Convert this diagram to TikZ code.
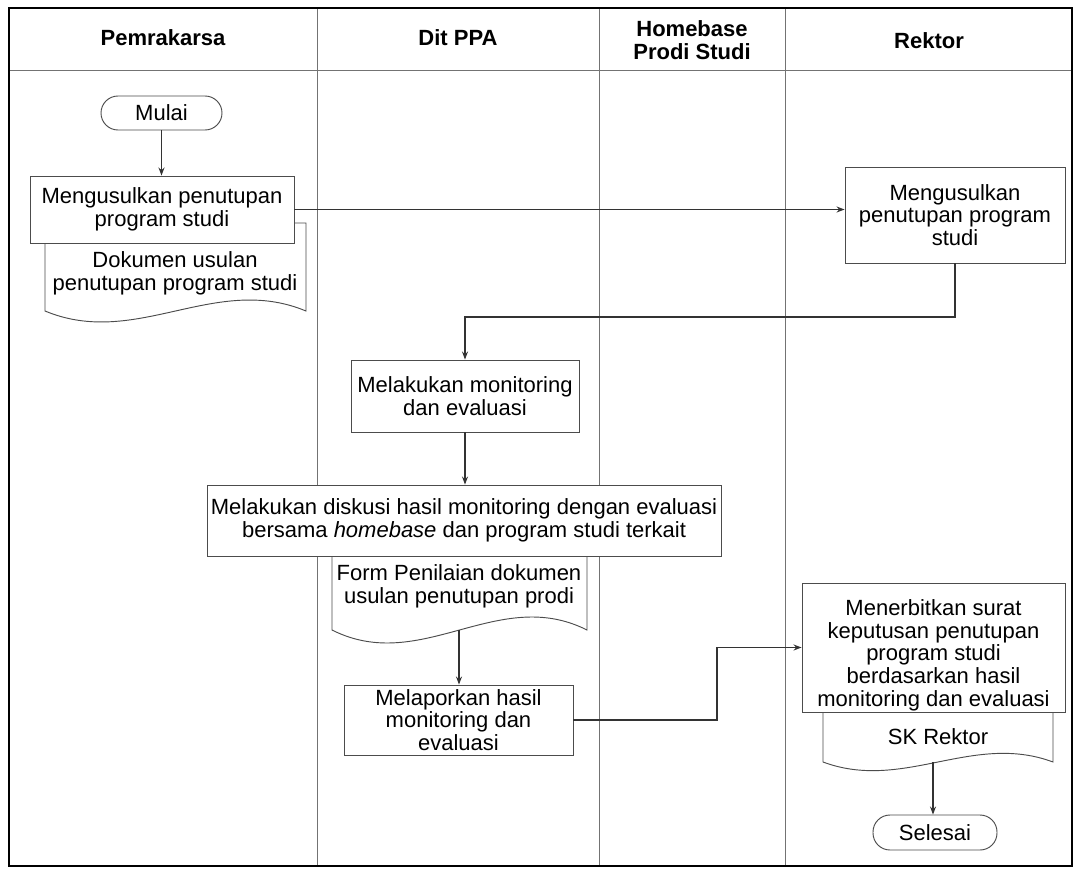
\documentclass[tikz,border=0pt]{standalone}
\usepackage{fontspec}
\setmainfont{Liberation Sans}
\usetikzlibrary{arrows.meta}

% document symbol: left x, top y, right x, bottom y, wave depth
\newcommand\docsymbol[5]{%
  \path[docline] (#1,#2) -- (#1,#4)
    .. controls ({#1+0.35*(#3-#1)},{#4+#5}) and ({#1+0.65*(#3-#1)},{#4-#5}) .. (#3,#4)
    -- (#3,#2) -- cycle;}

\begin{document}
\begin{tikzpicture}[x=0.75pt,y=-0.75pt,
  txt/.style={font=\fontsize{16.5pt}{17pt}\selectfont, align=center, inner sep=0pt},
  head/.style={font=\fontsize{16.5pt}{17.3pt}\selectfont\bfseries, align=center, inner sep=0pt},
  frame/.style={draw=black, line width=1.3pt},
  lane/.style={draw=black!55, line width=0.6pt},
  proc/.style={txt, draw=black!70, line width=0.7pt, fill=white, rectangle},
  term/.style={proc, rounded corners=12.75pt},
  docline/.style={draw=black!70, line width=0.7pt, fill=white},
  flow/.style={draw=black!80, line width=0.8pt, -{Stealth[length=6pt,width=4.5pt]}},
]
\fill[white] (0,0) rectangle (1075,874);
\useasboundingbox (0,0) rectangle (1075,874);

% swimlanes
\draw[lane] (9,70) -- (1072,70);
\draw[lane] (317,8) -- (317,866);
\draw[lane] (599,8) -- (599,866);
\draw[lane] (785,8) -- (785,866);
\draw[frame] (9,8) rectangle (1072,866);

\node[head] (h1) at (163,38) {Pemrakarsa};
\node[head] (h2) at (458,38) {Dit PPA};
\node[head] (h3) at (692,40.5) {Homebase\\Prodi Studi};
\node[head] (h4) at (929,41) {Rektor};

% documents (drawn first, their tops sit under the process boxes)
\docsymbol{45}{223}{306}{311}{38}
\docsymbol{332}{540}{587}{630}{45}
\docsymbol{823}{700}{1053}{762}{30}
\node[txt] (d1) at (175,273.5) {Dokumen usulan\\penutupan program studi};
\node[txt] (d2) at (459,586) {Form Penilaian dokumen\\usulan penutupan prodi};
\node[txt] (d3) at (938,737) {SK Rektor};
\coordinate (d2b) at (459,630);
\coordinate (d3b) at (933,762);

% steps
\node[term, minimum width=90.75pt, minimum height=25.5pt] (start) at (161.5,113) {Mulai};
\node[proc, minimum width=198pt, minimum height=50.25pt] (b1) at (162,209.5) {Mengusulkan penutupan\\program studi};
\node[proc, minimum width=165pt, minimum height=72pt] (rk1) at (955,215) {Mengusulkan\\penutupan program\\studi};
\node[proc, minimum width=171pt, minimum height=54pt] (mon) at (465,396) {Melakukan monitoring\\dan evaluasi};
\node[proc, minimum width=385.5pt, minimum height=53.25pt] (dis) at (464,520.5) {Melakukan diskusi hasil monitoring dengan evaluasi\\bersama \textit{homebase} dan program studi terkait};
\node[proc, minimum width=171.75pt, minimum height=52.5pt] (mel) at (458.5,720) {Melaporkan hasil\\monitoring dan\\evaluasi};
\node[proc, minimum width=197.25pt, minimum height=96.75pt] (men) at (933.5,647.5) {};
\node[txt] (mentext) at (933.5,655) {Menerbitkan surat\\keputusan penutupan\\program studi\\berdasarkan hasil\\monitoring dan evaluasi};
\node[term, minimum width=93pt, minimum height=26.25pt] (stop) at (935,832.5) {Selesai};

% connectors
\coordinate (j1) at (0,317);
\coordinate (j2) at (717,0);
\draw[flow] (start.south) -- (start.south |- b1.north);
\draw[flow] (b1.east) -- (b1.east -| rk1.west);
\draw[flow] (rk1.south) |- (mon.north |- j1) -- (mon.north);
\draw[flow] (mon.south) -- (mon.south |- dis.north);
\draw[flow] (d2b) -- (d2b |- mel.north);
\draw[flow] (mel.east) -| (j2 |- men.west) -- (men.west);
\draw[flow] (d3b) -- (d3b |- stop.north);
\end{tikzpicture}
\end{document}
